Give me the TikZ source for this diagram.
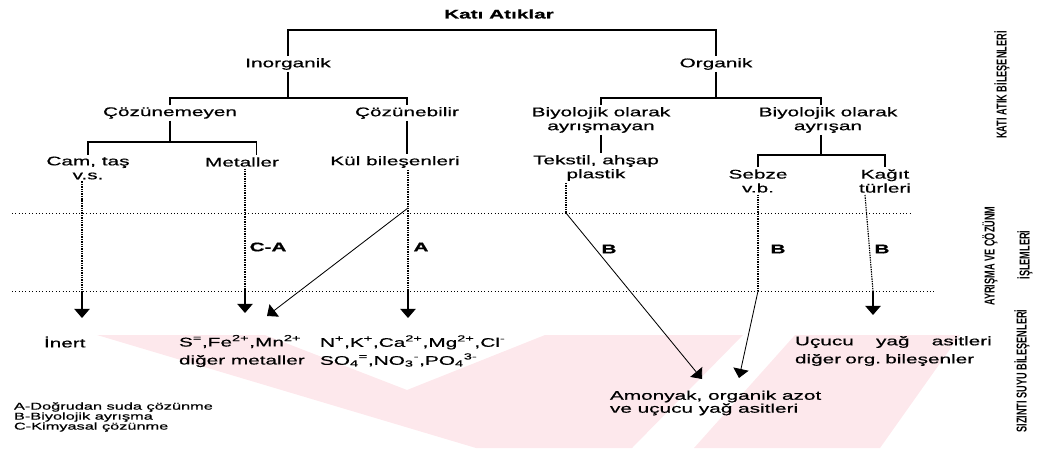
\documentclass[tikz,border=0pt]{standalone}
\usepackage{fontspec}
\setmainfont[FakeStretch=1.66,FakeBold=0.6]{Liberation Sans}
\newfontfamily\sidefont[FakeStretch=0.64]{Liberation Sans}
\usetikzlibrary{arrows.meta}
\definecolor{markpink}{RGB}{253,232,236}

\begin{document}
\begin{tikzpicture}[x=0.025cm,y=-0.025cm,thick,
  txt/.style={font=\fontsize{8.9}{9.9}\selectfont,inner sep=1pt,align=center},
  proc/.style={font=\bfseries\fontsize{8.9}{9.9}\selectfont,inner sep=1pt},
  side/.style={font=\sidefont\bfseries\fontsize{10.2}{11}\selectfont,rotate=90,inner sep=0pt},
  band/.style={dash pattern=on 1pt off 0.7pt},
  arr/.style={-{Triangle[width=11pt,length=6.5pt]}},
  sep/.style={dotted,thin}]
  \useasboundingbox (0,0) rectangle (1045,448);

  %watermark
  \fill[markpink] (97,335) -- (265,335) -- (407,390) -- (545,335) -- (743,335)
    -- (632,448) -- (476,448) -- cycle;
  \fill[markpink] (795,335) -- (960,335) -- (880,448) -- (694,448) -- cycle;

  %tree
  \node[txt,font=\bfseries\fontsize{8.9}{9.9}\selectfont] (kati) at (499,14) {Katı Atıklar};
  \node[txt] (inorg) at (288,64) {Inorganik};
  \node[txt] (org) at (716,64) {Organik};
  \node[txt] (cozmez) at (170,113) {Çözünemeyen};
  \node[txt] (cozer) at (407,113) {Çözünebilir};
  \node[txt] (ayrmaz) at (601,120) {Biyolojik olarak\\ayrışmayan};
  \node[txt] (ayrir) at (828,120) {Biyolojik olarak\\ayrışan};
  \node[txt] (cam) at (88,168) {Cam, taş\\v.s.};
  \node[txt] (metal) at (242,162) {Metaller};
  \node[txt] (kul) at (395,162) {Kül bileşenleri};
  \node[txt] (tekstil) at (596,168) {Tekstil, ahşap\\plastik};
  \node[txt] (sebze) at (758,181) {Sebze\\v.b.};
  \node[txt] (kagit) at (885,181) {Kağıt\\türleri};

  \coordinate (bar1) at (0,30);
  \coordinate (bar2) at (0,98);
  \coordinate (bar3) at (0,142);
  \coordinate (bar4) at (0,155);
  \draw (inorg.north) -- (inorg.north |- bar1) -| (org.north);
  \draw (inorg.south) -- (inorg.south |- bar2);
  \draw (cozmez.north) -- (cozmez.north |- bar2) -| (cozer.north);
  \draw (org.south) -- (org.south |- bar2);
  \draw (ayrmaz.north) -- (ayrmaz.north |- bar2) -| ([xshift=-5pt]ayrir.north);
  \draw (cozmez.south) -- (cozmez.south |- bar3);
  \draw (cam.north) -- (cam.north |- bar3) -| ([xshift=10pt]metal.north);
  \draw (cozer.south) -- (kul.north -| cozer.south);
  \draw (ayrmaz.south) -- (tekstil.north -| ayrmaz.south);
  \draw ([xshift=-5pt]ayrir.south) -- ([xshift=-5pt]ayrir.south |- bar4);
  \draw (sebze.north) -- (sebze.north |- bar4) -| (kagit.north);

  %separators
  \coordinate (d1l) at (12,213);
  \coordinate (d1r) at (910,213);
  \coordinate (d2l) at (12,291);
  \coordinate (d2r) at (934,291);
  \draw[sep] (d1l) -- (d1r);
  \draw[sep] (d2l) -- (d2r);

  %processes
  \coordinate (tcam) at (82,318);
  \coordinate (tmet) at (245,313);
  \coordinate (tkul) at (408,318);
  \coordinate (kfork) at (408,208);
  \coordinate (tdiag) at (267,316);
  \coordinate (tfork) at (566,213);
  \coordinate (ttek) at (702,379);
  \coordinate (tseb) at (739,378);
  \coordinate (kag1) at (865,195);
  \coordinate (kag2) at (873,291);
  \coordinate (tkag) at (873,315);
  \draw[band] (cam.south -| tcam) -- (tcam |- d2l);
  \draw[arr] (tcam |- d2l) -- (tcam);
  \draw[band] (metal.south -| tmet) -- (tmet |- d2l);
  \draw[arr] (tmet |- d2l) -- (tmet);
  \draw[band] (kul.south -| tkul) -- (tkul |- d2l);
  \draw[arr] (tkul |- d2l) -- (tkul);
  \draw[arr,semithick] (kfork) -- (tdiag);
  \draw[band] (tekstil.south -| tfork) -- (tfork);
  \draw[arr,semithick] (tfork) -- (ttek);
  \draw[band] (sebze.south) -- (sebze.south |- d2l);
  \draw[arr,semithick] (sebze.south |- d2l) -- (tseb);
  \draw[band] (kag1) -- (kag2);
  \draw[arr] (kag2) -- (tkag);
  \node[proc] (ca) at (268,247) {C-A};
  \node[proc] (a) at (421,247) {A};
  \node[proc] (b1) at (609,249) {B};
  \node[proc] (b2) at (778,249) {B};
  \node[proc] (b3) at (882,249) {B};

  %leachate
  \node[txt,anchor=west] (inert) at (42,342) {İnert};
  \node[txt,anchor=west,align=left,font=\fontsize{8.9}{12.8}\selectfont] (metion) at (177,351)
    {S\textsuperscript{=},Fe\textsuperscript{2+},Mn\textsuperscript{2+}\\diğer metaller};
  \node[txt,anchor=west,align=left,font=\fontsize{8.9}{12.8}\selectfont] (kulion) at (318,351)
    {N\textsuperscript{+},K\textsuperscript{+},Ca\textsuperscript{2+},Mg\textsuperscript{2+},Cl\textsuperscript{-}\\SO\textsubscript{4}\textsuperscript{=},NO\textsubscript{3}\textsuperscript{-},PO\textsubscript{4}\textsuperscript{3-}};
  \node[txt,anchor=west,align=left,text width=140pt,font=\fontsize{8.9}{12.8}\selectfont] (ucucu) at (793,351)
    {Uçucu\hfill yağ\hfill asitleri\\diğer org.\ bileşenler};
  \node[txt,anchor=west,align=left,font=\fontsize{8.9}{9.2}\selectfont] (amonyak) at (608,403)
    {Amonyak, organik azot\\ve uçucu yağ asitleri};

  %legend
  \node[txt,anchor=west,align=left,font=\fontsize{7}{7.1}\selectfont] (legend) at (12,417)
    {A-Doğrudan suda çözünme\\B-Biyolojik ayrışma\\C-Kimyasal çözünme};

  %side labels
  \node[side] (lkati) at (1002,85) {KATI ATIK BİLEŞENLERİ};
  \node[side] (layr) at (990,256) {AYRIŞMA VE ÇÖZÜNM};
  \node[side] (lisl) at (1025,255) {İŞLEMLERİ};
  \node[side] (lsiz) at (1022,371) {SIZINTI SUYU BİLEŞENLERİ};
\end{tikzpicture}
\end{document}
